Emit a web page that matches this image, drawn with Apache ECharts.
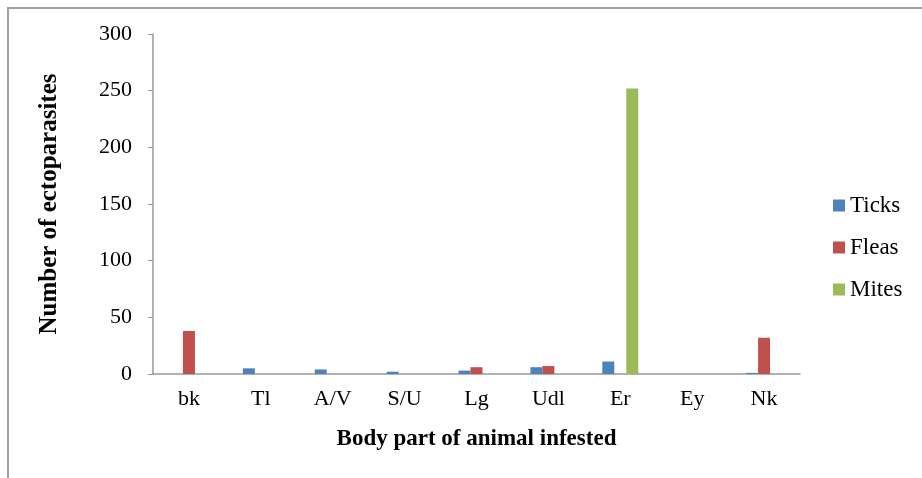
<!DOCTYPE html>
<html>
<head>
<meta charset="utf-8">
<script src="https://cdn.jsdelivr.net/npm/echarts@6/dist/echarts.min.js"></script>
<style>
  html, body { margin: 0; padding: 0; background: #fff; }
  #chart { width: 922px; height: 478px; }
</style>
</head>
<body>
<div id="chart"></div>
<script>
// body parts (categories)
const parts = ['bk', 'Tl', 'A/V', 'S/U', 'Lg', 'Udl', 'Er', 'Ey', 'Nk']
// counts per parasite group
const ticks = [0, 5, 4, 2, 3, 6, 11, 0, 1]
const fleas = [38, 0, 0, 0, 6, 7, 0, 0, 32]
const mites = [0, 0, 0, 0, 0, 0, 252, 0, 0]
const yTicks = [0, 50, 100, 150, 200, 250, 300]

const serif = '"Liberation Serif", "DejaVu Serif", serif'
const chart = echarts.init(document.getElementById('chart'))

chart.setOption({
  animation: false,
  textStyle: { fontFamily: serif },
  // outer frame
  graphic: [{
    type: 'rect',
    shape: { x: 8, y: 8, width: 930, height: 490 },
    style: { fill: 'none', stroke: '#a0a0a0', lineWidth: 2 }
  }],
  grid: { left: 153, right: 122, top: 34, bottom: 104 },
  legend: {
    orient: 'vertical',
    left: 828,
    top: 189,
    itemWidth: 12,
    itemHeight: 12,
    itemGap: 19,
    icon: 'rect',
    textStyle: { fontFamily: serif, fontSize: 23, color: '#000', padding: [0, 0, 0, 0] },
    data: ['Ticks', 'Fleas', 'Mites']
  },
  xAxis: {
    type: 'category',
    data: parts,
    name: 'Body part of animal infested',
    nameLocation: 'middle',
    nameGap: 54,
    nameTextStyle: { fontFamily: serif, fontSize: 23, fontWeight: 'bold', color: '#000' },
    axisLine: { lineStyle: { color: '#999', width: 1.5 } },
    axisTick: { show: false },
    axisLabel: { fontFamily: serif, fontSize: 22, color: '#000', margin: 14 }
  },
  yAxis: {
    type: 'value',
    min: 0,
    max: 300,
    interval: 50,
    name: 'Number of ectoparasites',
    nameLocation: 'middle',
    nameGap: 91,
    nameTextStyle: { fontFamily: serif, fontSize: 25, fontWeight: 'bold', color: '#000' },
    axisLine: { show: true, lineStyle: { color: '#999', width: 1.5 } },
    axisTick: { show: true, length: 5, lineStyle: { color: '#999' } },
    splitLine: { show: false },
    axisLabel: {
      fontFamily: serif, fontSize: 22, color: '#000', margin: 21,
      formatter: v => yTicks.includes(v) ? String(v) : ''
    }
  },
  series: [
    { name: 'Ticks', type: 'bar', data: ticks, barGap: 0, barCategoryGap: '50%', itemStyle: { color: '#4F81BD' } },
    { name: 'Fleas', type: 'bar', data: fleas, itemStyle: { color: '#C0504D' } },
    { name: 'Mites', type: 'bar', data: mites, itemStyle: { color: '#9BBB59' } }
  ]
})
</script>
</body>
</html>
